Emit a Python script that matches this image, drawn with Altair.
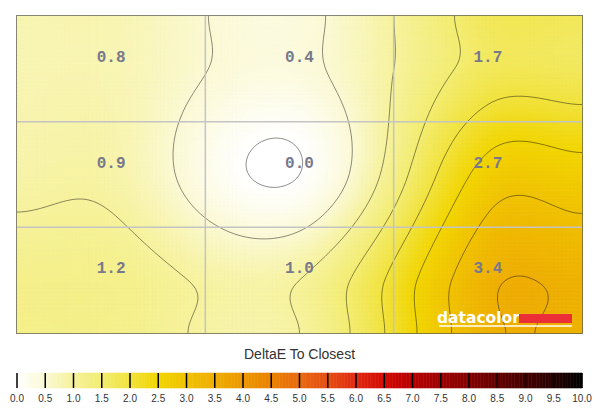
import numpy as np
import pandas as pd
import altair as alt

# ---- data ----
row_top = [0.8, 0.4, 1.7]
row_mid = [0.9, 0.0, 2.7]
row_bot = [1.2, 1.0, 3.4]
legend_ticks = [i * 0.5 for i in range(21)]
stop_vals = [i * 0.5 for i in range(21)]
stop_cols = ["#ffffff", "#fbf9d4", "#f6f29c", "#f3ec70", "#f1e23c", "#f1d500",
             "#f0c200", "#eeae00", "#ec9800", "#ea8200", "#e86a10", "#e54e12",
             "#e02a12", "#d20a02", "#b80000", "#9e0000", "#840000", "#640000",
             "#460000", "#260000", "#000000"]
contour_levels = [0.0, 0.5, 1.0, 1.5, 2.0, 2.5, 3.0, 3.5]
legend_title = "DeltaE To Closest"

Z = np.array([row_top, row_mid, row_bot], dtype=float)
centers = np.array([0.5, 1.5, 2.5])

# ---- smooth surface (cubic Hermite / Catmull-Rom, edge values repeated at borders) ----
def hermite_eval(t, y, xs):
    n = len(t)
    m = np.zeros(n)
    for i in range(1, n - 1):
        m[i] = (y[i + 1] - y[i - 1]) / (t[i + 1] - t[i - 1])
    m[0] = (y[1] - y[0]) / (t[1] - t[0])
    m[-1] = (y[-1] - y[-2]) / (t[-1] - t[-2])
    idx = np.clip(np.searchsorted(t, xs) - 1, 0, n - 2)
    h = t[idx + 1] - t[idx]
    s = (xs - t[idx]) / h
    h00 = 2 * s ** 3 - 3 * s ** 2 + 1; h10 = s ** 3 - 2 * s ** 2 + s
    h01 = -2 * s ** 3 + 3 * s ** 2; h11 = s ** 3 - s ** 2
    return h00 * y[idx] + h10 * h * m[idx] + h01 * y[idx + 1] + h11 * h * m[idx + 1]

knots = np.array([0.0, 0.5, 1.5, 2.5, 3.0])
Zp = np.pad(Z, 1, mode="edge")

def field(xs, ys):
    R = np.array([hermite_eval(knots, Zp[r], xs) for r in range(5)])
    return np.array([hermite_eval(knots, R[:, j], ys) for j in range(len(xs))]).T  # ny x nx

# heatmap cells
nx, ny = 141, 80
xe = np.linspace(0, 3, nx + 1); ye = np.linspace(0, 3, ny + 1)
xc = (xe[:-1] + xe[1:]) / 2; yc = (ye[:-1] + ye[1:]) / 2
F = field(xc, yc)
X0, Y0 = np.meshgrid(xe[:-1], ye[:-1]); X1, Y1 = np.meshgrid(xe[1:], ye[1:])
cells = pd.DataFrame({"x0": X0.ravel().round(4), "x1": X1.ravel().round(4),
                      "y0": Y0.ravel().round(4), "y1": Y1.ravel().round(4),
                      "v": F.ravel().round(3)})

# contour segments (marching squares)
cx = np.linspace(0, 3, 241); cy = np.linspace(0, 3, 136)
G = field(cx, cy)
segs = []
for L in contour_levels:
    for j in range(len(cy) - 1):
        for i in range(len(cx) - 1):
            v00 = G[j, i]; v10 = G[j, i + 1]; v01 = G[j + 1, i]; v11 = G[j + 1, i + 1]
            s = [v00 > L, v10 > L, v11 > L, v01 > L]
            if all(s) or not any(s):
                continue
            pts = []
            corners = [(cx[i], cy[j], v00), (cx[i + 1], cy[j], v10),
                       (cx[i + 1], cy[j + 1], v11), (cx[i], cy[j + 1], v01)]
            for k in range(4):
                xa, ya, va = corners[k]; xb, yb, vb = corners[(k + 1) % 4]
                if (va > L) != (vb > L):
                    t = (L - va) / (vb - va)
                    pts.append((xa + t * (xb - xa), ya + t * (yb - ya)))
            if len(pts) == 2:
                segs.append((pts[0][0], pts[0][1], pts[1][0], pts[1][1]))
            elif len(pts) == 4:
                segs.append((pts[0][0], pts[0][1], pts[1][0], pts[1][1]))
                segs.append((pts[2][0], pts[2][1], pts[3][0], pts[3][1]))
contours = pd.DataFrame(segs, columns=["xa", "ya", "xb", "yb"]).round(4)

labels = pd.DataFrame({"x": np.tile(centers, 3), "y": np.repeat(centers, 3),
                       "t": [f"{v:.1f}" for v in Z.ravel()]})
grid = pd.DataFrame({"g": [1.0, 2.0]})

W, H = 565, 317
xs = alt.Scale(domain=[0, 3], nice=False, zero=False)
ys = alt.Scale(domain=[0, 3], nice=False, zero=False, reverse=True)
cscale = alt.Scale(domain=stop_vals, range=stop_cols, interpolate="rgb")

heat = alt.Chart(cells).mark_rect(strokeWidth=0.6).encode(
    x=alt.X("x0:Q", scale=xs, axis=None), x2="x1",
    y=alt.Y("y0:Q", scale=ys, axis=None), y2="y1",
    fill=alt.Fill("v:Q", scale=cscale, legend=None),
    stroke=alt.Stroke("v:Q", scale=cscale, legend=None))

cont = alt.Chart(contours).mark_rule(color="black", opacity=0.45, strokeWidth=1).encode(
    x=alt.X("xa:Q", scale=xs, axis=None), x2="xb",
    y=alt.Y("ya:Q", scale=ys, axis=None), y2="yb")

vgrid = alt.Chart(grid).mark_rule(color="#c4c4c4", strokeWidth=1.5).encode(
    x=alt.X("g:Q", scale=xs, axis=None))
hgrid = alt.Chart(grid).mark_rule(color="#c4c4c4", strokeWidth=1.5).encode(
    y=alt.Y("g:Q", scale=ys, axis=None))

txt = alt.Chart(labels).mark_text(font="Liberation Mono", fontSize=16, fontWeight="bold",
                                   color="#78788c", dy=-12).encode(
    x=alt.X("x:Q", scale=xs, axis=None), y=alt.Y("y:Q", scale=ys, axis=None), text="t:N")

logo_df = pd.DataFrame({"t": ["datacolor"]})
logo_t = alt.Chart(logo_df).mark_text(font="DejaVu Sans", fontSize=15.5, fontWeight="bold",
                                      color="white", align="left", baseline="alphabetic").encode(
    x=alt.value(420), y=alt.value(307), text="t:N")
logo_r = alt.Chart(logo_df).mark_rect(color="#ea3036").encode(
    x=alt.value(502), x2=alt.value(555), y=alt.value(298), y2=alt.value(307))
logo_u = alt.Chart(logo_df).mark_rule(color="white", strokeWidth=1.5).encode(
    x=alt.value(422), x2=alt.value(555), y=alt.value(310))

# legend colour bar (own x scale, drawn below the plot)
steps = np.arange(0, 10, 0.05)
bar = pd.DataFrame({"a": steps.round(3), "b": (steps + 0.05).round(3), "v": (steps + 0.025).round(3)})
lx = alt.Scale(domain=[0, 10], nice=False, zero=False)
ticks_df = pd.DataFrame({"k": legend_ticks})
bar_rects = alt.Chart(bar).mark_rect(strokeWidth=0.6).encode(
    x=alt.X("a:Q", scale=lx, axis=None), x2="b",
    y=alt.value(357), y2=alt.value(372),
    fill=alt.Fill("v:Q", scale=cscale, legend=None),
    stroke=alt.Stroke("v:Q", scale=cscale, legend=None))
bar_ticks = alt.Chart(ticks_df).mark_rule(color="black", strokeWidth=1.5).encode(
    x=alt.X("k:Q", scale=lx, axis=None), y=alt.value(357), y2=alt.value(372))
bar_labels = alt.Chart(ticks_df).mark_text(font="Liberation Sans", fontSize=10, color="#333333",
                                           baseline="middle").encode(
    x=alt.X("k:Q", scale=lx, axis=None), y=alt.value(383),
    text=alt.Text("k:Q", format=".1f"))
bar_title = alt.Chart(pd.DataFrame({"t": [legend_title]})).mark_text(
    font="Liberation Sans", fontSize=14, color="#333333", baseline="middle").encode(
    x=alt.value(W / 2), y=alt.value(339), text="t:N")

chart = alt.layer(
    heat, cont, vgrid, hgrid, txt, logo_t, logo_r, logo_u,
    bar_rects, bar_ticks, bar_labels, bar_title
).resolve_scale(x="independent").properties(
    width=W, height=H,
    autosize=alt.AutoSizeParams(type="none"),
    padding={"left": 9, "top": 8, "right": 10, "bottom": 74}
).configure_view(stroke="#222222", strokeWidth=1.5)

chart.save("out.html", embed_options={"renderer": "svg", "actions": False})
